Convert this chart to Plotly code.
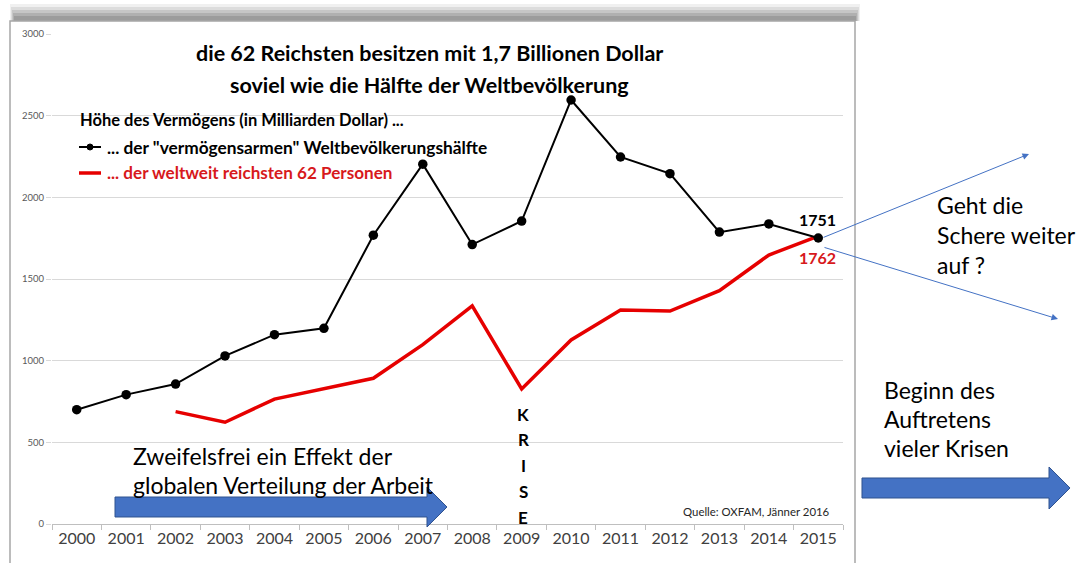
import plotly.graph_objects as go

years = [str(y) for y in range(2000, 2016)]
poor_half = [700, 792, 857, 1029, 1159, 1198, 1768, 2203, 1711, 1855, 2596, 2247, 2145, 1787, 1837, 1751]
rich_62 = [None, None, 688, 623, 765, 827, 892, 1098, 1335, 827, 1127, 1310, 1304, 1429, 1647, 1762]
y_ticks = [0, 500, 1000, 1500, 2000, 2500, 3000]

W, H = 1092, 563
L, R, T, B = 52, 843, 34, 524

def px(x):
    return (x - L) / (R - L)

def py(y):
    return (B - y) / (B - T)

FONT = "Lato"
BLUE = "#4472C4"
RED_LINE = "#e60000"
RED_TXT = "#d7191c"

fig = go.Figure()
fig.add_trace(go.Scatter(x=years, y=rich_62, mode="lines",
                         line=dict(color=RED_LINE, width=3.5), showlegend=False))
fig.add_trace(go.Scatter(x=years, y=poor_half, mode="lines+markers",
                         line=dict(color="black", width=2),
                         marker=dict(color="black", size=9.5), showlegend=False))

shapes = []
annotations = []

# frame shadow
for i, op in enumerate([0.10, 0.15, 0.2, 0.25, 0.3]):
    shapes.append(dict(type="rect", xref="paper", yref="paper", layer="below",
                       x0=px(10 + i), x1=px(860 - i), y0=py(21), y1=py(4 + i * 3),
                       line=dict(width=0), fillcolor=f"rgba(110,110,110,{op})"))
# frame
shapes.append(dict(type="rect", xref="paper", yref="paper", layer="below",
                   x0=px(10), x1=px(855), y0=py(570), y1=py(21),
                   line=dict(color="#a6a6a6", width=1.5), fillcolor="white"))

# legend samples
shapes.append(dict(type="line", xref="paper", yref="paper",
                   x0=px(79), x1=px(101), y0=py(147), y1=py(147),
                   line=dict(color="black", width=2)))
shapes.append(dict(type="circle", xref="paper", yref="paper",
                   x0=px(87), x1=px(93), y0=py(150), y1=py(144),
                   line=dict(color="black", width=1), fillcolor="black"))
shapes.append(dict(type="line", xref="paper", yref="paper",
                   x0=px(79), x1=px(101), y0=py(173), y1=py(173),
                   line=dict(color=RED_LINE, width=3.5)))

# block arrows
def block_arrow(x0, x1, head_x, yc, half_body, half_head):
    pts = [(x0, yc - half_body), (head_x, yc - half_body), (head_x, yc - half_head),
           (x1, yc), (head_x, yc + half_head), (head_x, yc + half_body), (x0, yc + half_body)]
    path = "M " + " L ".join(f"{px(a):.5f},{py(b):.5f}" for a, b in pts) + " Z"
    return dict(type="path", xref="paper", yref="paper", path=path,
                fillcolor=BLUE, line=dict(color="#2f528f", width=1))

shapes.append(block_arrow(115, 447, 427, 507, 10, 20))
shapes.append(block_arrow(862, 1070, 1049, 488, 10, 21))

def text(x, y, s, size, color="black", bold=False, anchor="left"):
    annotations.append(dict(xref="paper", yref="paper", x=px(x), y=py(y),
                            text=f"<b>{s}</b>" if bold else s, showarrow=False,
                            xanchor=anchor, yanchor="middle",
                            font=dict(family=FONT, size=size, color=color)))

text(429, 53, "die 62 Reichsten besitzen mit 1,7 Billionen Dollar", 21.5, bold=True, anchor="center")
text(429, 85, "soviel wie die Hälfte der Weltbevölkerung", 21.5, bold=True, anchor="center")
text(78, 120, "Höhe des Vermögens (in Milliarden Dollar) ...", 16.5, bold=True)
text(105, 147, '... der "vermögensarmen" Weltbevölkerungshälfte', 17.3, bold=True)
text(105, 173, "... der weltweit reichsten 62 Personen", 17.1, color=RED_TXT, bold=True)
text(817, 219, "1751", 16, bold=True, anchor="center")
text(817, 257, "1762", 16, color=RED_TXT, bold=True, anchor="center")
for i, ch in enumerate("KRISE"):
    text(523, 414 + i * 25.8, ch, 17, bold=True, anchor="center")
text(832, 511, "Quelle: OXFAM, Jänner 2016", 11.4, color="#262626", anchor="right")
text(131, 456, "Zweifelsfrei ein Effekt der", 23)
text(131, 485, "globalen Verteilung der Arbeit", 23)
text(882, 390, "Beginn des", 23)
text(882, 419, "Auftretens", 23)
text(882, 448, "vieler Krisen", 23)
text(935, 205, "Geht die", 23)
text(935, 235, "Schere weiter", 23)
text(935, 265, "auf ?", 23)

# thin arrows
for (tx, ty, hx, hy) in [(822, 238, 1029, 154), (823, 247, 1058, 319)]:
    annotations.append(dict(xref="paper", yref="paper", x=px(hx), y=py(hy),
                            ax=tx - hx, ay=ty - hy, axref="pixel", ayref="pixel",
                            showarrow=True, arrowhead=2, arrowsize=1.3, arrowwidth=1,
                            arrowcolor=BLUE, text=""))

fig.update_layout(
    width=W, height=H,
    margin=dict(l=L, r=W - R, t=T, b=H - B),
    paper_bgcolor="white", plot_bgcolor="rgba(0,0,0,0)",
    shapes=shapes, annotations=annotations,
    xaxis=dict(type="category", range=[-0.5, 15.5], showgrid=False,
               showline=True, linecolor="#bfbfbf", linewidth=1,
               ticks="outside", tickson="boundaries", ticklen=5, tickcolor="#bfbfbf",
               tickfont=dict(family=FONT, size=16, color="#404040")),
    yaxis=dict(range=[0, 3000], tickvals=y_ticks, showgrid=True, gridcolor="#d9d9d9",
               zeroline=False, showline=False, ticks="outside", ticklen=5,
               tickcolor="#d9d9d9",
               tickfont=dict(family=FONT, size=9.5, color="#595959")),
)

fig.write_html("out.html", config={"displayModeBar": False},
               post_script="document.body.style.margin='0px';")
